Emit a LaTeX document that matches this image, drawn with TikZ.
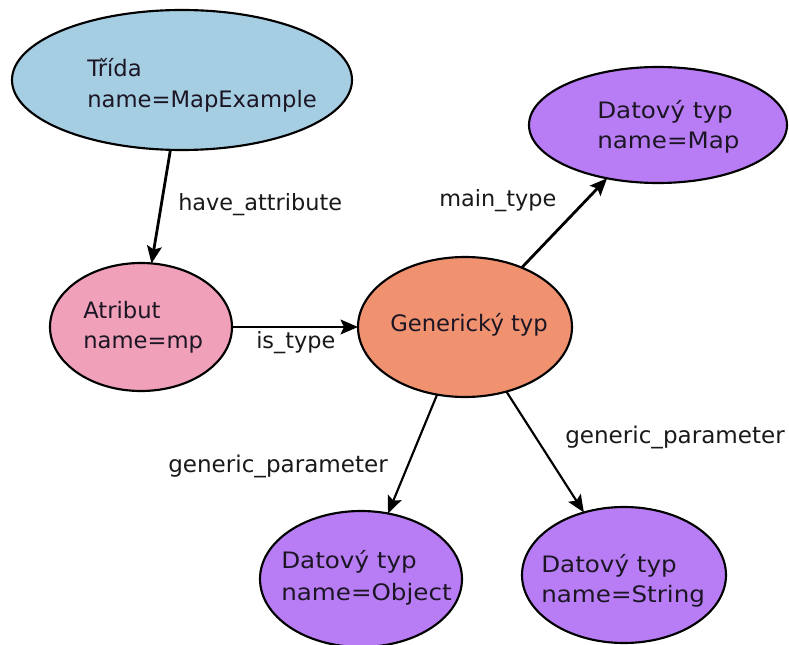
\documentclass[tikz,border=0pt]{standalone}
\usepackage{fontspec}
\setmainfont{DejaVu Sans}
\newfontfamily\widesans[FakeStretch=1.085]{DejaVu Sans}
\usetikzlibrary{arrows.meta,shapes.geometric}

\definecolor{classfill}{RGB}{166,206,227}
\definecolor{attrfill}{RGB}{240,160,185}
\definecolor{genfill}{RGB}{240,146,112}
\definecolor{typefill}{RGB}{184,125,245}
\definecolor{inktext}{RGB}{28,22,36}

\begin{document}
\begin{tikzpicture}[x=0.75pt, y=-0.75pt,
  blob/.style={ellipse, draw=black, line width=1.6pt, inner sep=0pt, outer sep=0pt},
  ntext/.style={anchor=base west, inner sep=0pt, text=inktext, font=\fontsize{17pt}{20pt}\selectfont},
  ttext/.style={ntext, font=\widesans\fontsize{17pt}{20pt}\selectfont},
  elabel/.style={anchor=base west, inner sep=0pt, text=black!90, font=\fontsize{16.8pt}{20pt}\selectfont},
  glabel/.style={elabel, font=\fontsize{17.3pt}{20pt}\selectfont},
  link/.style={line width=2.1pt, -{Stealth[length=13pt, width=11pt, inset=2.5pt]}},
  thinlink/.style={line width=1.6pt, -{Stealth[length=13pt, width=11pt, inset=2.5pt]}}
]
\useasboundingbox (0,0) rectangle (789,645);

% ellipses
\node[blob, fill=classfill, minimum width=255pt, minimum height=105pt] (trida) at (182,80) {};
\node[blob, fill=typefill, minimum width=193.5pt, minimum height=87pt] (map) at (658,125) {};
\node[blob, fill=attrfill, minimum width=136.5pt, minimum height=96pt] (attr) at (141,327) {};
\node[blob, fill=genfill, minimum width=160.5pt, minimum height=105pt] (gen) at (465,327) {};
\node[blob, fill=typefill, minimum width=151.5pt, minimum height=102pt] (obj) at (361,579) {};
\node[blob, fill=typefill, minimum width=153pt, minimum height=102pt] (str) at (624,575) {};

% text inside the ellipses
\node[ntext] (trida1) at (87,77) {Třída};
\node[ntext] (trida2) at (87,108) {name=MapExample};
\node[ttext] (map1) at (597,119) {Datový typ};
\node[ttext] (map2) at (597,149) {name=Map};
\node[ntext] (attr1) at (83,319) {Atribut};
\node[ntext] (attr2) at (83,349) {name=mp};
\node[ntext] (gen1) at (390,332) {Generický typ};
\node[ttext] (obj1) at (281,568) {Datový typ};
\node[ttext] (obj2) at (281,600) {name=Object};
\node[ttext] (str1) at (541,572) {Datový typ};
\node[ttext] (str2) at (541,602) {name=String};

% connectors
\draw[link] (trida) -- (attr);
\draw[link] (attr) -- (gen);
\draw[link] (gen) -- (map);
\draw[thinlink] (gen) -- (obj);
\draw[thinlink] (gen) -- (str);

% connector labels
\node[elabel] (l1) at (178,211) {have\_attribute};
\node[elabel] (l2) at (439,207) {main\_type};
\node[elabel] (l3) at (256,349) {is\_type};
\node[glabel] (l4) at (168,472) {generic\_parameter};
\node[glabel] (l5) at (565,443) {generic\_parameter};
\end{tikzpicture}
\end{document}
